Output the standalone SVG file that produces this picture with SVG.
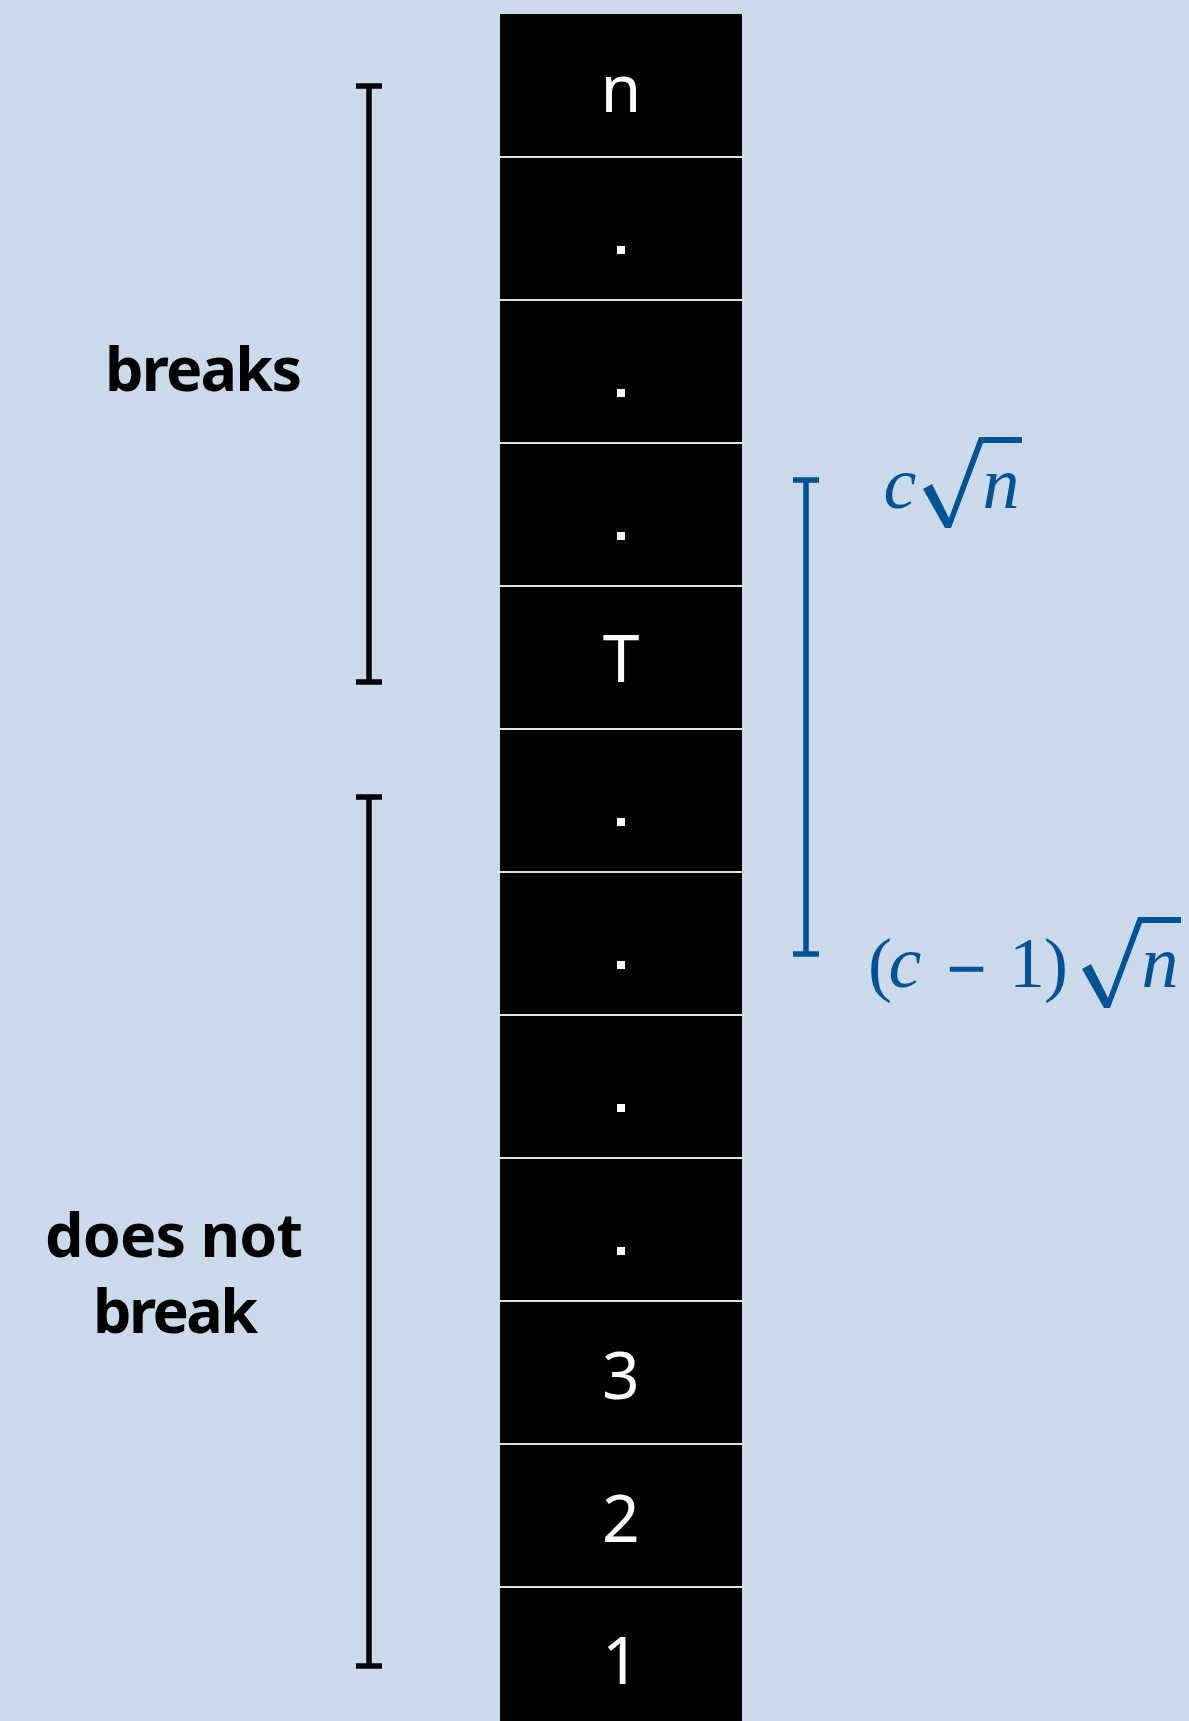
<svg xmlns="http://www.w3.org/2000/svg" width="1189" height="1721" viewBox="0 0 1189 1721">
  <style>
    .cell { fill: #000; }
    .sep { stroke: #e2e2e2; stroke-width: 2; }
    .val { fill: #fff; font-family: "Noto Sans", "DejaVu Sans", sans-serif; font-size: 66px; text-anchor: middle; }
    .lbl { fill: #000; font-family: "Noto Sans", "DejaVu Sans", sans-serif; font-weight: bold; font-size: 61px; }
    .brk { stroke: #000; stroke-width: 5.5; fill: none; }
    .brk-blue { stroke: #005293; stroke-width: 5.5; fill: none; }
    .mi { fill: #005293; font-family: "Liberation Serif", "Times New Roman", serif; font-style: italic; font-size: 74px; text-anchor: middle; }
    .mr { fill: #005293; font-family: "Liberation Serif", "Times New Roman", serif; font-size: 72px; text-anchor: middle; }
  </style>
  <defs>
    <!-- radical sign with overbar, origin at its left tick -->
    <path id="radical" fill="#005293" d="M0,52 L9,47 L26,81 L56,0 L99,0 L99,6 L60,6 L28,91 L22,91 Z"/>
  </defs>

  <rect width="1189" height="1721" fill="#cbdaeb"/>

  <!-- stack column -->
  <g id="stack">
    <rect class="cell" x="500" y="14" width="242" height="1707"/>
  </g>

  <g id="cells">
    <g id="cell-n"><text class="val" x="621" y="112">n</text></g>
    <g id="cell-dot1"><rect fill="#fff" x="617" y="246" width="8" height="8"/></g>
    <g id="cell-dot2"><rect fill="#fff" x="617" y="389" width="8" height="8"/></g>
    <g id="cell-dot3"><rect fill="#fff" x="617" y="532" width="8" height="8"/></g>
    <g id="cell-T"><text class="val" x="621" y="682">T</text></g>
    <g id="cell-dot4"><rect fill="#fff" x="617" y="818" width="8" height="8"/></g>
    <g id="cell-dot5"><rect fill="#fff" x="617" y="961" width="8" height="8"/></g>
    <g id="cell-dot6"><rect fill="#fff" x="617" y="1104" width="8" height="8"/></g>
    <g id="cell-dot7"><rect fill="#fff" x="617" y="1247" width="8" height="8"/></g>
    <g id="cell-3"><text class="val" x="621" y="1399">3</text></g>
    <g id="cell-2"><text class="val" x="621" y="1542">2</text></g>
    <g id="cell-1"><text class="val" x="621" y="1684">1</text></g>
  </g>

  <!-- cell dividers -->
  <g id="dividers">
    <line class="sep" x1="497" y1="157" x2="745" y2="157"/>
    <line class="sep" x1="497" y1="300" x2="745" y2="300"/>
    <line class="sep" x1="497" y1="443" x2="745" y2="443"/>
    <line class="sep" x1="497" y1="586" x2="745" y2="586"/>
    <line class="sep" x1="497" y1="729" x2="745" y2="729"/>
    <line class="sep" x1="497" y1="872" x2="745" y2="872"/>
    <line class="sep" x1="497" y1="1015" x2="745" y2="1015"/>
    <line class="sep" x1="497" y1="1158" x2="745" y2="1158"/>
    <line class="sep" x1="497" y1="1301" x2="745" y2="1301"/>
    <line class="sep" x1="497" y1="1444" x2="745" y2="1444"/>
    <line class="sep" x1="497" y1="1587" x2="745" y2="1587"/>
  </g>

  <!-- range brackets -->
  <g id="connectors">
    <path class="brk" d="M356,86 H382 M369,86 V682 M356,682 H382"/>
    <path class="brk" d="M356,797 H382 M369,797 V1666 M356,1666 H382"/>
    <path class="brk-blue" d="M793,480 H819 M806,480 V954 M793,954 H819"/>
  </g>

  <g id="label-breaks">
    <text class="lbl" x="302" y="391" text-anchor="end" textLength="197" lengthAdjust="spacing">breaks</text>
  </g>
  <g id="label-does-not-break">
    <text class="lbl" x="174" y="1257" text-anchor="middle" textLength="258" lengthAdjust="spacing">does not</text>
    <text class="lbl" x="175.5" y="1333" text-anchor="middle" textLength="165" lengthAdjust="spacing">break</text>
  </g>

  <!-- c sqrt(n) -->
  <g id="label-c-sqrt-n">
    <text class="mi" x="900" y="508">c</text>
    <use href="#radical" x="923" y="437"/>
    <text class="mi" x="1001" y="508">n</text>
  </g>

  <!-- (c - 1) sqrt(n) -->
  <g id="label-c-minus-1-sqrt-n">
    <text class="mr" x="880" y="988">(</text>
    <text class="mi" x="905" y="987">c</text>
    <text class="mr" x="966.5" y="993" font-size="98" font-weight="bold">−</text>
    <text class="mr" x="1027" y="987">1</text>
    <text class="mr" x="1056" y="988">)</text>
    <use href="#radical" x="1082" y="917"/>
    <text class="mi" x="1160" y="987">n</text>
  </g>
</svg>
